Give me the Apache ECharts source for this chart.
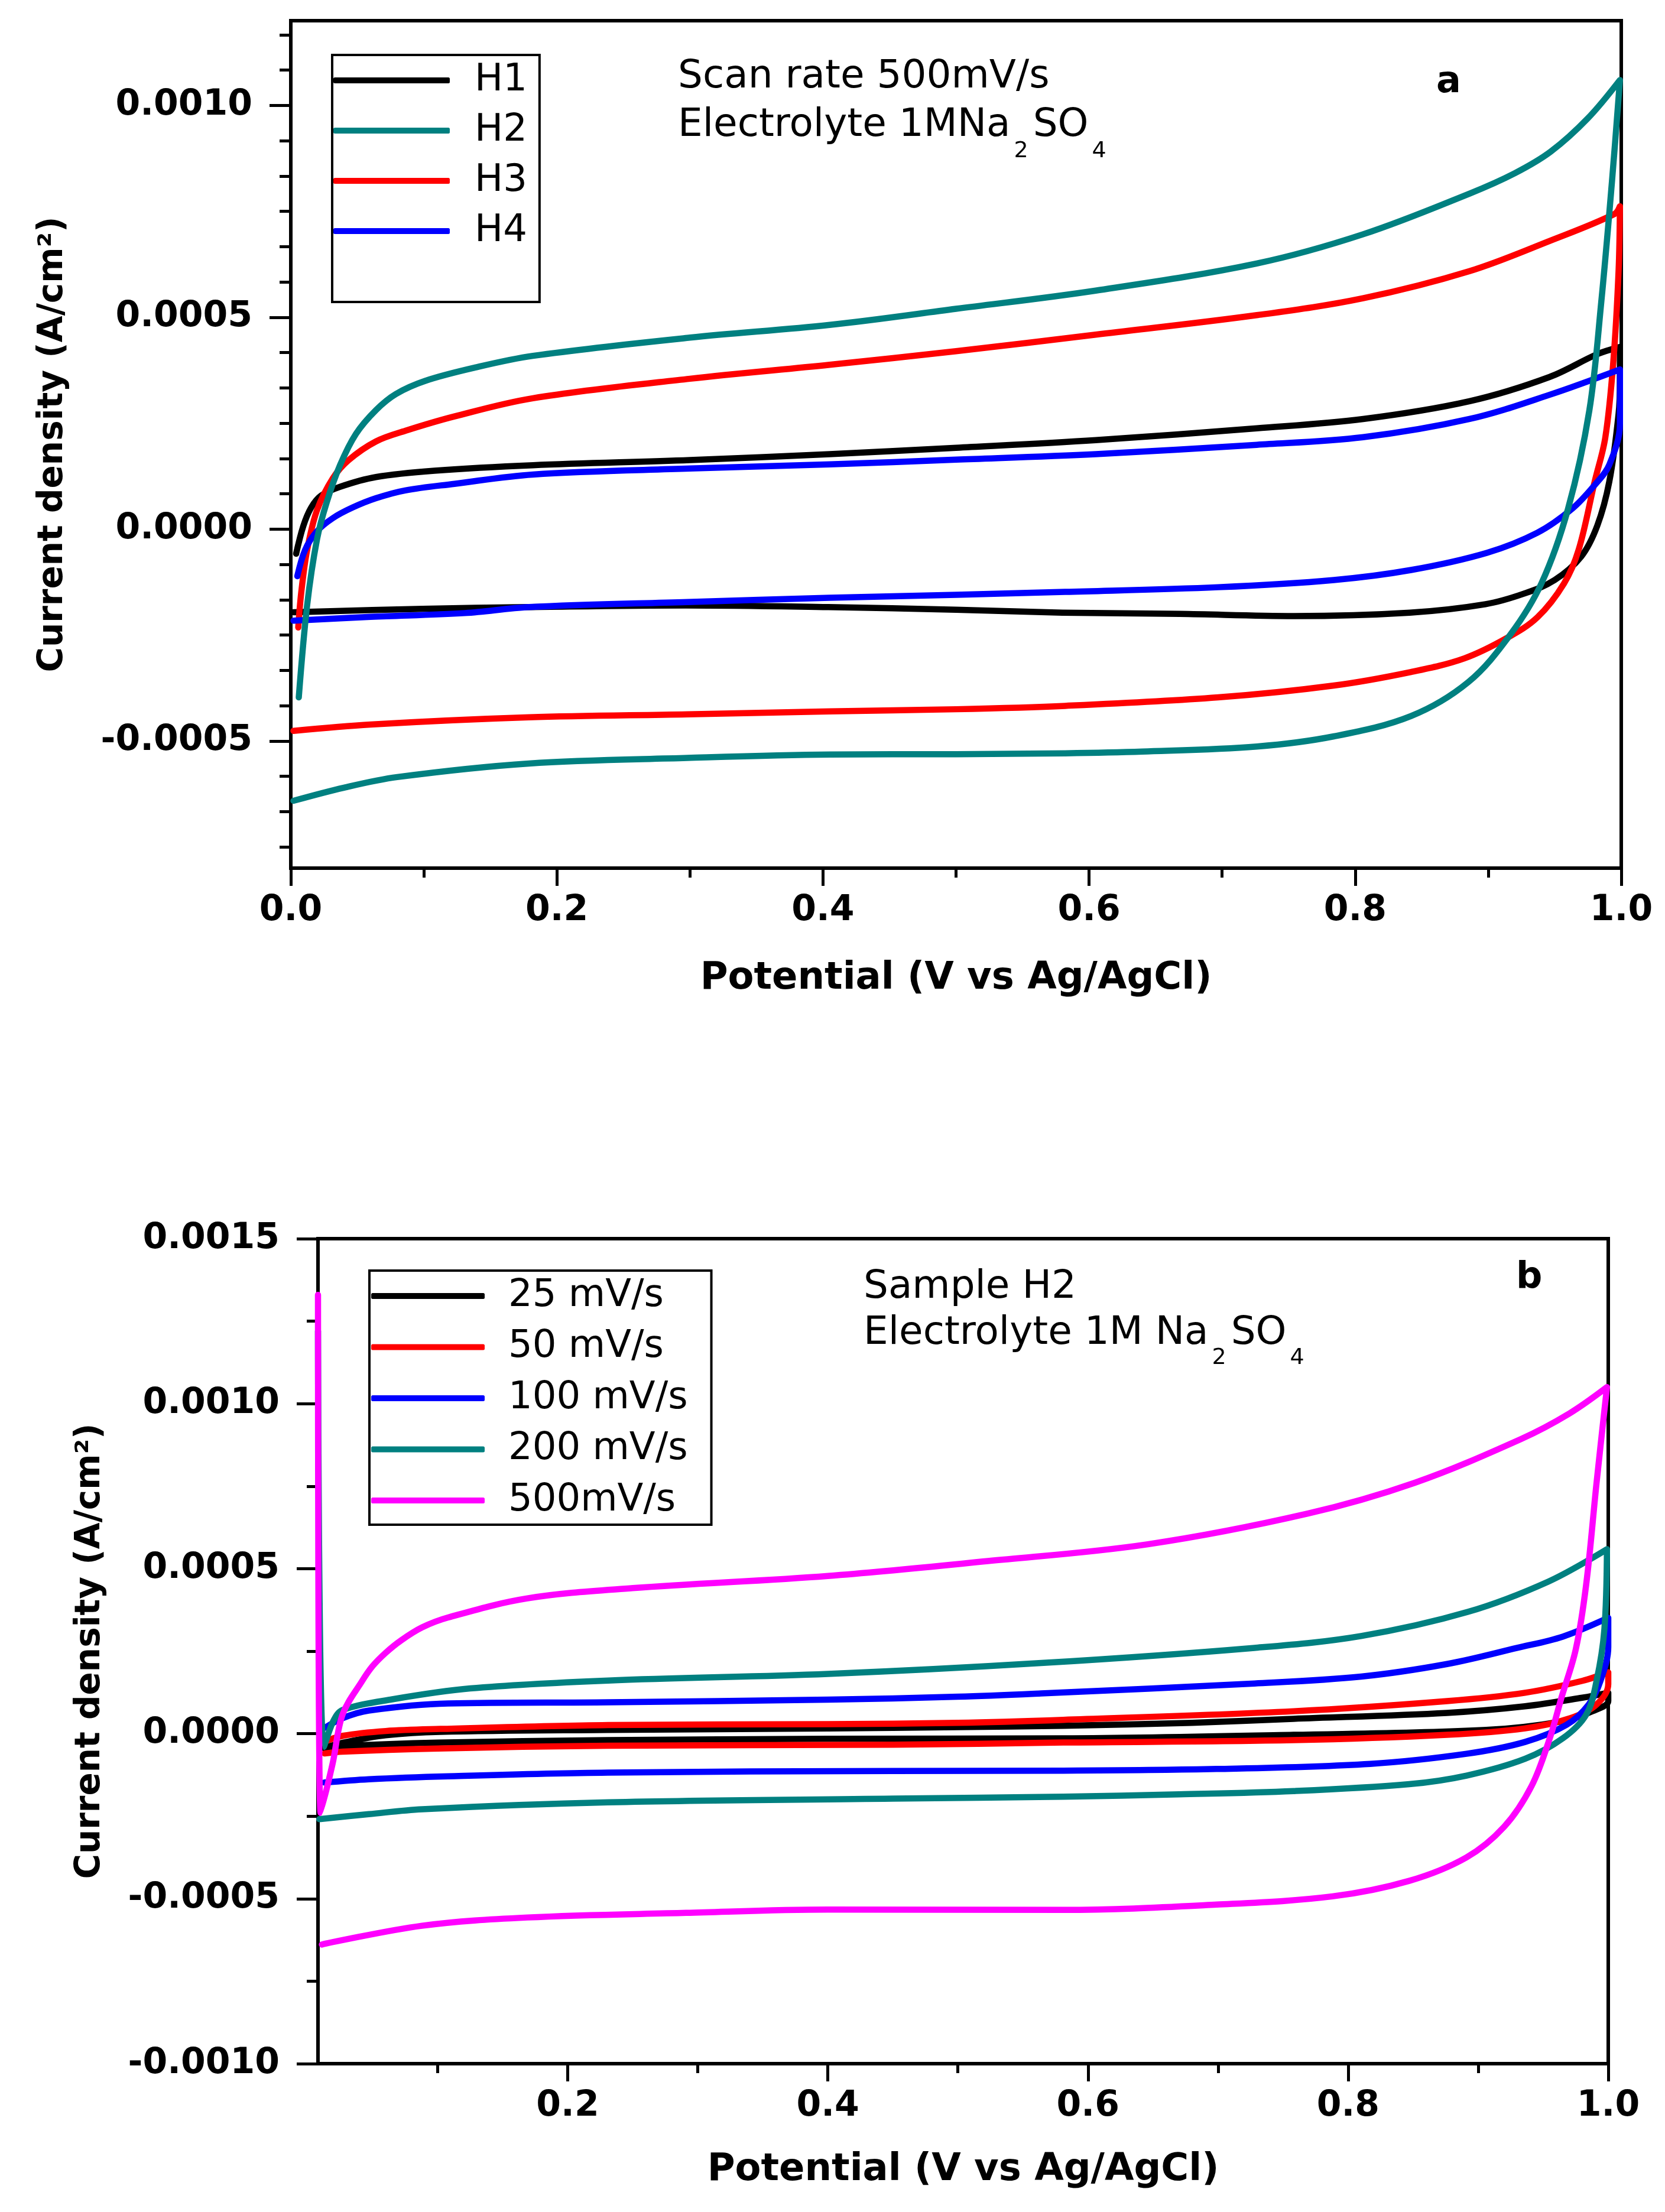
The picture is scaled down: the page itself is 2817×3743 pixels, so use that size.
<!DOCTYPE html>
<html>
<head>
<meta charset="utf-8">
<script src="https://cdn.jsdelivr.net/npm/echarts@6/dist/echarts.min.js"></script>
<style>
  html, body { margin: 0; padding: 0; background: #fff; }
  #main { width: 2817px; height: 3743px; }
</style>
</head>
<body>
<div id="main"></div>
<script>
// ---- ticks ----
const topXTicks = [0, 0.2, 0.4, 0.6, 0.8, 1.0];
const topXMinor = [0.1, 0.3, 0.5, 0.7, 0.9];
const topYTicks = [-0.0005, 0, 0.0005, 0.0010];
const topYMinor = [-0.00075, -0.0006667, -0.0005833, -0.0004167, -0.0003333, -0.00025, -0.0001667, -0.0000833,
  0.0000833, 0.0001667, 0.00025, 0.0003333, 0.0004167, 0.0005833, 0.0006667, 0.00075, 0.0008333, 0.0009167,
  0.0010833, 0.0011667];
const botXTicks = [0.2, 0.4, 0.6, 0.8, 1.0];
const botXMinor = [0.1, 0.3, 0.5, 0.7, 0.9];
const botYTicks = [-0.0010, -0.0005, 0, 0.0005, 0.0010, 0.0015];
const botYMinor = [-0.00075, -0.00025, 0.00025, 0.00075, 0.00125];

// ---- (a) scan rate 500 mV/s, samples H1..H4 : [potential V, current A/cm2] ----
const topNames = ['H1', 'H2', 'H3', 'H4'];
const topColors = ['#000000', '#008080', '#ff0000', '#0000ff'];

const h1 = [[0.004,-0.000058],[0.0094,0.0000075],[0.0153,0.000051],[0.0227,0.000079],[0.037,0.0001],[0.064,0.000123],
  [0.108,0.000138],[0.182,0.000151],[0.3,0.000163],[0.405,0.000177],[0.5,0.000192],[0.605,0.00021],[0.726,0.000238],
  [0.806,0.00026],[0.886,0.000302],[0.946,0.000359],[0.982,0.000413],[0.999,0.00043],
  [0.999,0.00035],[0.998,0.000272],[0.991,0.000112],[0.982,0.0000084],[0.97,-0.0000642],[0.95,-0.00012],
  [0.927,-0.000152],[0.898,-0.000177],[0.841,-0.000197],[0.754,-0.000205],[0.668,-0.0002],[0.58,-0.000197],
  [0.5,-0.00019],[0.404,-0.000184],[0.297,-0.00018],[0.178,-0.000184],[0.099,-0.000188],[0.002,-0.000196]];

const h2 = [[0.006,-0.000397],[0.0123,-0.000179],[0.0197,-0.000024],[0.027,0.0000635],[0.037,0.000151],[0.049,0.000225],
  [0.064,0.000281],[0.079,0.000319],[0.101,0.00035],[0.138,0.000381],[0.182,0.000409],[0.3,0.000452],[0.405,0.000482],
  [0.5,0.00052],[0.605,0.000563],[0.726,0.000627],[0.806,0.000696],[0.886,0.000792],[0.92,0.00084],[0.947,0.000891],
  [0.975,0.00097],[0.999,0.00106],
  [0.993,0.00082],[0.985,0.000537],[0.976,0.00028],[0.96,0.000048],[0.94,-0.000128],[0.9166,-0.000249],
  [0.885,-0.000361],[0.842,-0.000441],[0.784,-0.000489],[0.726,-0.000513],[0.64,-0.000525],[0.582,-0.000529],
  [0.5,-0.000531],[0.405,-0.000532],[0.298,-0.00054],[0.179,-0.000553],[0.08,-0.000585],[0.04,-0.00061],[0.002,-0.000641]];

const h3 = [[0.0056,-0.000232],[0.0079,-0.000148],[0.0123,-0.0000486],[0.0197,0.0000448],[0.0316,0.00012],[0.0435,0.000163],
  [0.064,0.000207],[0.086,0.000232],[0.123,0.000266],[0.182,0.000309],[0.3,0.000355],[0.405,0.000388],[0.5,0.00042],
  [0.605,0.000459],[0.726,0.000505],[0.806,0.000545],[0.886,0.000609],[0.946,0.00068],[0.995,0.000744],[0.999,0.000762],
  [0.998,0.00061],[0.994,0.000394],[0.988,0.000216],[0.98,0.000112],[0.968,-0.0000483],[0.957,-0.000128],
  [0.937,-0.000208],[0.914,-0.000257],[0.882,-0.000305],[0.842,-0.000337],[0.784,-0.000369],[0.697,-0.000397],
  [0.582,-0.000417],[0.5,-0.000425],[0.405,-0.00043],[0.298,-0.000437],[0.179,-0.000444],[0.06,-0.000461],[0.002,-0.000476]];

const h4 = [[0.0049,-0.000111],[0.0108,-0.0000486],[0.0197,-0.000005],[0.0316,0.000026],[0.0464,0.000051],[0.064,0.000073],
  [0.086,0.0000915],[0.123,0.000107],[0.182,0.000129],[0.3,0.000143],[0.405,0.000153],[0.5,0.000164],[0.605,0.000177],
  [0.726,0.000199],[0.806,0.000217],[0.886,0.00026],[0.946,0.000317],[0.999,0.000377],
  [0.999,0.000249],[0.991,0.000152],[0.98,0.000104],[0.963,0.0000479],[0.937,-0.0000084],[0.899,-0.0000559],
  [0.842,-0.0000964],[0.784,-0.00012],[0.697,-0.000137],[0.582,-0.000148],[0.5,-0.000155],[0.405,-0.000162],
  [0.298,-0.000172],[0.179,-0.000184],[0.131,-0.000198],[0.06,-0.000207],[0.002,-0.000216]];

// ---- (b) sample H2 at several scan rates ----
const botNames = ['25 mV/s', '50 mV/s', '100 mV/s', '200 mV/s', '500mV/s'];
const botColors = ['#000000', '#ff0000', '#0000ff', '#008080', '#ff00ff'];

const r25 = [[0.013,-0.000042],[0.03,-0.000025],[0.06,-0.000005],[0.102,0.0000054],[0.231,0.0000113],[0.4,0.000016],
  [0.5,0.00002],[0.581,0.000024],[0.68,0.000033],[0.758,0.000045],[0.876,0.000063],[0.936,0.000083],[0.98,0.000109],[1.0,0.000124],
  [1.0,0.0000986],[0.988,0.0000681],[0.965,0.0000376],[0.906,0.0000113],[0.758,-0.0000036],[0.581,-0.0000143],
  [0.4,-0.0000156],[0.231,-0.0000197],[0.1,-0.000027],[0.027,-0.0000376],[0.013,-0.000045]];

const r50 = [[0.013,-0.0000245],[0.027,-0.0000066],[0.06,0.000008],[0.102,0.0000143],[0.231,0.0000263],[0.4,0.000029],
  [0.5,0.000033],[0.581,0.000042],[0.758,0.000068],[0.876,0.0000986],[0.936,0.000124],[0.98,0.00016],[1.0,0.000186],
  [1.0,0.00015],[0.991,0.0000884],[0.971,0.0000471],[0.936,0.0000161],[0.876,-0.0000036],[0.758,-0.0000197],
  [0.581,-0.0000269],[0.45,-0.0000335],[0.231,-0.0000364],[0.1,-0.000045],[0.027,-0.0000543],[0.013,-0.00006]];

const r100 = [[0.0133,0.0000179],[0.027,0.0000471],[0.047,0.0000699],[0.108,0.0000914],[0.231,0.000095],[0.4,0.000103],
  [0.5,0.000112],[0.564,0.000122],[0.728,0.000152],[0.81,0.000173],[0.876,0.000211],[0.93,0.00026],[0.965,0.000294],[1.0,0.000351],
  [1.0,0.000263],[0.994,0.00016],[0.985,0.0000884],[0.968,0.0000269],[0.936,-0.0000251],[0.891,-0.0000609],
  [0.817,-0.0000914],[0.699,-0.000107],[0.581,-0.000112],[0.45,-0.000113],[0.231,-0.000118],[0.108,-0.000129],
  [0.047,-0.000138],[0.013,-0.000148]];

const r200 = [[0.008,0.00122],[0.0125,-0.00004],[0.02,0.00004],[0.027,0.0000717],[0.065,0.000104],[0.125,0.000137],
  [0.231,0.000161],[0.4,0.000181],[0.564,0.000214],[0.728,0.00026],[0.81,0.000296],[0.892,0.000369],[0.954,0.000461],[0.999,0.000559],
  [0.997,0.000315],[0.991,0.00016],[0.983,0.0000573],[0.965,-0.0000143],[0.936,-0.0000762],[0.891,-0.000127],
  [0.847,-0.000153],[0.758,-0.000174],[0.67,-0.000184],[0.581,-0.000191],[0.45,-0.000197],[0.231,-0.000208],
  [0.088,-0.000229],[0.047,-0.000244],[0.009,-0.000259]];

const r500 = [[0.008,0.00133],[0.01,-0.00024],[0.0193,-0.0000896],[0.027,0.0000591],[0.042,0.00016],[0.05,0.000205],
  [0.06,0.000245],[0.072,0.000283],[0.088,0.000322],[0.108,0.000352],[0.169,0.00041],[0.25,0.000441],[0.4,0.000478],
  [0.523,0.000523],[0.646,0.000574],[0.769,0.000667],[0.851,0.00076],[0.933,0.000893],[0.97,0.00097],[0.999,0.00105],
  [0.991,0.00076],[0.983,0.000451],[0.975,0.000255],[0.964,0.000109],[0.955,-0.0000143],[0.941,-0.000159],
  [0.92,-0.000282],[0.891,-0.000375],[0.847,-0.000446],[0.788,-0.000493],[0.699,-0.000518],[0.581,-0.000534],
  [0.4,-0.000533],[0.291,-0.000543],[0.169,-0.000557],[0.088,-0.000582],[0.011,-0.000639]];

const topData = [h1, h2, h3, h4];
const botData = [r25, r50, r100, r200, r500];

const FONT = 'DejaVu Sans';
const black = '#000';

function mainX(grid, min, max, ticks, name, nameGap) {
  return {
    type: 'value', gridIndex: grid, min: min, max: max, position: 'bottom',
    axisLine: { onZero: false, lineStyle: { color: black, width: 6 } },
    axisTick: { customValues: ticks, length: 30, lineStyle: { color: black, width: 5 } },
    axisLabel: { customValues: ticks, formatter: v => v.toFixed(1), margin: 42,
      color: black, fontFamily: FONT, fontWeight: 'bold', fontSize: 60 },
    splitLine: { show: false },
    name: name, nameLocation: 'middle', nameGap: nameGap,
    nameTextStyle: { color: black, fontFamily: FONT, fontWeight: 'bold', fontSize: 64 }
  };
}
function minorX(grid, min, max, ticks) {
  return {
    type: 'value', gridIndex: grid, min: min, max: max, position: 'bottom',
    axisLine: { show: false, onZero: false }, axisLabel: { show: false }, splitLine: { show: false },
    axisTick: { customValues: ticks, length: 16, lineStyle: { color: black, width: 5 } }
  };
}
function mainY(grid, min, max, ticks, nameGap) {
  return {
    type: 'value', gridIndex: grid, min: min, max: max, position: 'left',
    axisLine: { onZero: false, lineStyle: { color: black, width: 6 } },
    axisTick: { customValues: ticks, length: 36, lineStyle: { color: black, width: 5 } },
    axisLabel: { customValues: ticks, formatter: v => v.toFixed(4), margin: 65,
      color: black, fontFamily: FONT, fontWeight: 'bold', fontSize: 60 },
    splitLine: { show: false },
    name: 'Current density (A/cm²)', nameLocation: 'middle', nameGap: nameGap,
    nameTextStyle: { color: black, fontFamily: FONT, fontWeight: 'bold', fontSize: 58 }
  };
}
function minorY(grid, min, max, ticks) {
  return {
    type: 'value', gridIndex: grid, min: min, max: max, position: 'left',
    axisLine: { show: false, onZero: false }, axisLabel: { show: false }, splitLine: { show: false },
    axisTick: { customValues: ticks, length: 19, lineStyle: { color: black, width: 5 } }
  };
}
function loop(name, data, color, axis, z) {
  return {
    name: name, type: 'line', xAxisIndex: axis, yAxisIndex: axis, data: data,
    symbol: 'none', showSymbol: false, smooth: 0.35, z: z,
    lineStyle: { color: color, width: 10.5, cap: 'round', join: 'round' },
    itemStyle: { color: color }, emphasis: { disabled: true }
  };
}

const series = [];
topData.forEach((d, i) => series.push(loop(topNames[i], d, topColors[i], 0, i === 1 ? 4 : 3)));
botData.forEach((d, i) => series.push(loop(botNames[i], d, botColors[i], 2, 3 + i)));

function legendRich(lh, pad) {
  return { rich: { t: { fontFamily: FONT, fontSize: 64, color: black, lineHeight: lh, padding: [0, 0, 0, pad] } } };
}

const option = {
  backgroundColor: '#fff',
  animation: false,
  grid: [
    { left: 492, top: 35, width: 2251, height: 1434, show: true, borderColor: black, borderWidth: 6, backgroundColor: 'transparent' },
    { left: 538, top: 2096, width: 2183, height: 1396, show: true, borderColor: black, borderWidth: 6, backgroundColor: 'transparent' }
  ],
  xAxis: [
    mainX(0, 0, 1, topXTicks, 'Potential (V vs Ag/AgCl)', 155),
    minorX(0, 0, 1, topXMinor),
    mainX(1, 0.008, 1, botXTicks, 'Potential (V vs Ag/AgCl)', 148),
    minorX(1, 0.008, 1, botXMinor)
  ],
  yAxis: [
    mainY(0, -0.0008, 0.0012, topYTicks, 373),
    minorY(0, -0.0008, 0.0012, topYMinor),
    mainY(1, -0.0010, 0.0015, botYTicks, 356),
    minorY(1, -0.0010, 0.0015, botYMinor)
  ],
  legend: [
    { data: topNames, orient: 'vertical', left: 562, top: 93, icon: 'roundRect', itemWidth: 197, itemHeight: 10, itemGap: 21,
      padding: [11, 21, 88, 2], borderColor: black, borderWidth: 4, selectedMode: false,
      formatter: n => '{t|' + n + '}', textStyle: legendRich(60, 37) },
    { data: botNames, orient: 'vertical', left: 625, top: 2150, icon: 'roundRect', itemWidth: 192, itemHeight: 10, itemGap: 22.5,
      padding: [11, 40, 9, 3], borderColor: black, borderWidth: 4, selectedMode: false,
      formatter: n => '{t|' + n + '}', textStyle: legendRich(56, 35) }
  ],
  graphic: [
    { type: 'text', x: 1147, y: 98, style: {
        text: '{m|Scan rate 500mV/s}\n{m|Electrolyte 1MNa}{s|2}{m|SO}{s|4}',
        align: 'left', verticalAlign: 'top',
        rich: {
          m: { fontFamily: FONT, fontSize: 66, lineHeight: 82, verticalAlign: 'top', fill: black },
          s: { fontFamily: FONT, fontSize: 38, lineHeight: 38, verticalAlign: 'top', padding: [57, 8, 0, 6], fill: black }
        } } },
    { type: 'text', x: 1461, y: 2146, style: {
        text: '{m|Sample H2}\n{m|Electrolyte 1M Na}{s|2}{m|SO}{s|4}',
        align: 'left', verticalAlign: 'top',
        rich: {
          m: { fontFamily: FONT, fontSize: 66, lineHeight: 78, verticalAlign: 'top', fill: black },
          s: { fontFamily: FONT, fontSize: 38, lineHeight: 38, verticalAlign: 'top', padding: [55, 8, 0, 6], fill: black }
        } } },
    { type: 'text', x: 2430, y: 140, style: { text: 'a', fontFamily: FONT, fontWeight: 'bold', fontSize: 62,
        lineHeight: 62, align: 'left', verticalAlign: 'middle', fill: black } },
    { type: 'text', x: 2565, y: 2163, style: { text: 'b', fontFamily: FONT, fontWeight: 'bold', fontSize: 62,
        lineHeight: 62, align: 'left', verticalAlign: 'middle', fill: black } }
  ],
  series: series
};

const chart = echarts.init(document.getElementById('main'), null, { renderer: 'canvas' });
chart.setOption(option);
</script>
</body>
</html>
